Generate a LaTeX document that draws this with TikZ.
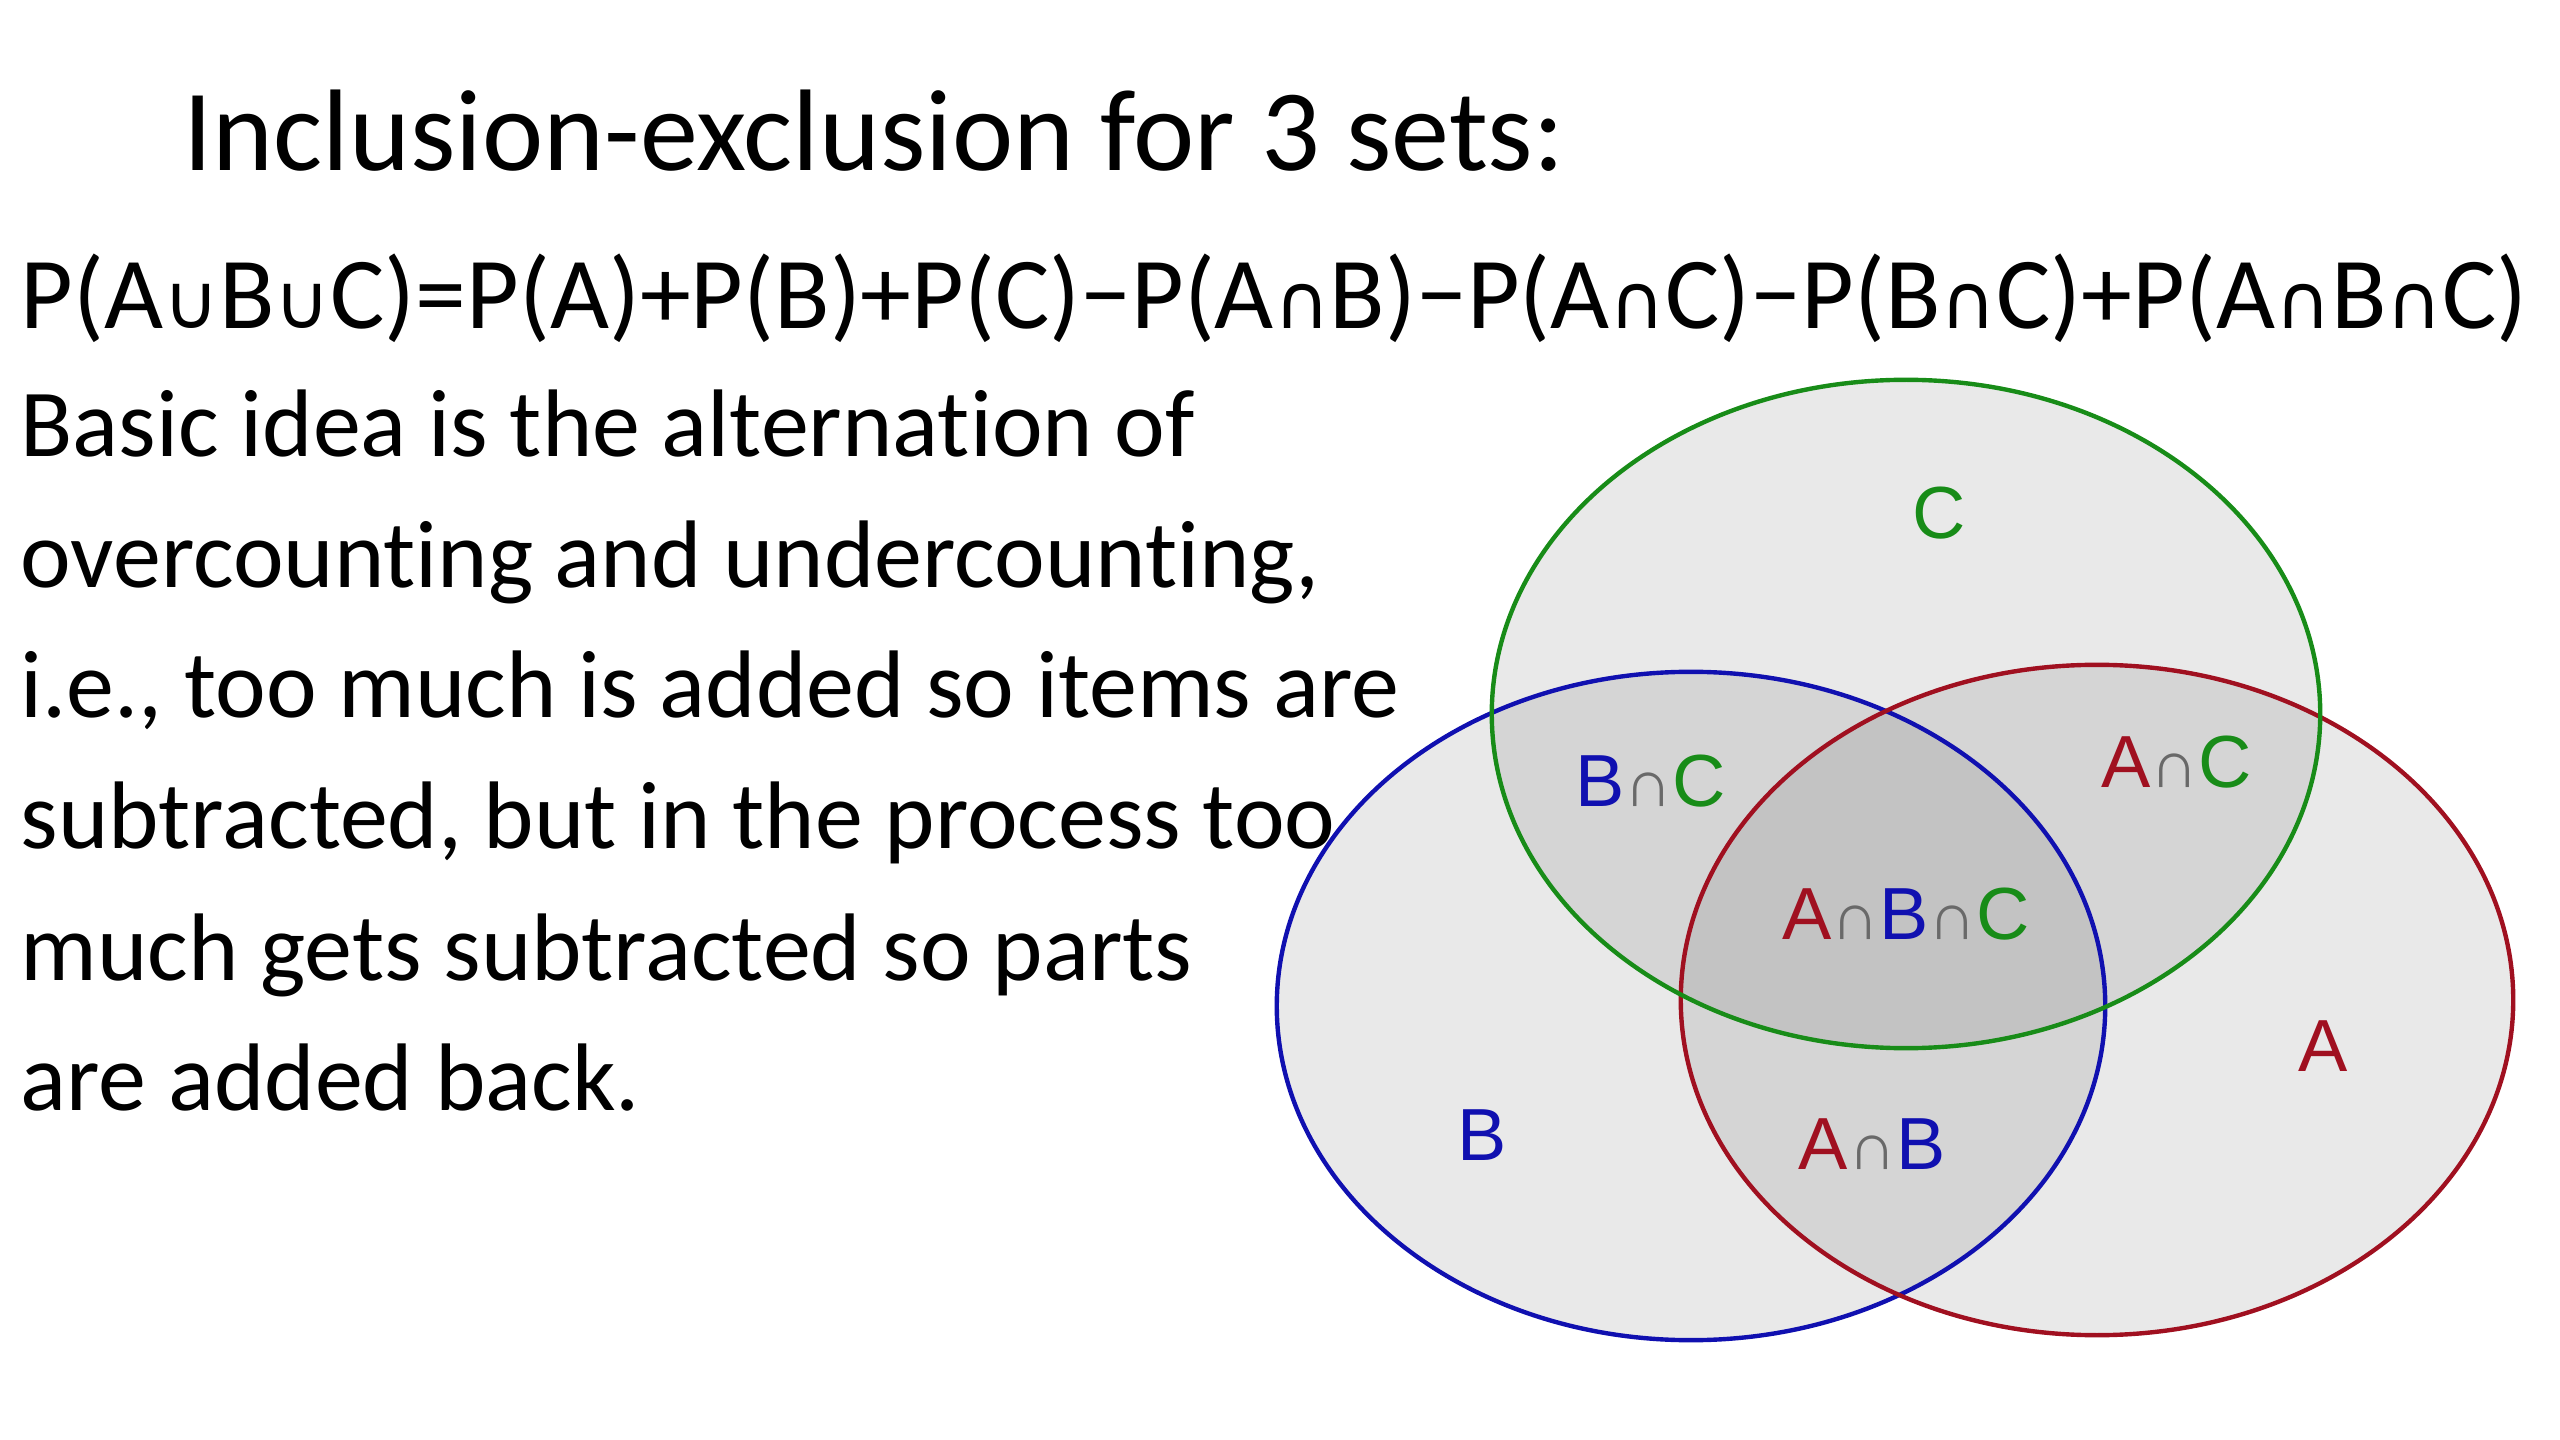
\documentclass[tikz,border=0pt]{standalone}
\usepackage{fontspec}
\setmainfont[Ligatures=NoCommon]{Carlito}
\newfontfamily\labelfont{Liberation Sans}
\newfontfamily\symfont{DejaVu Sans}
\usetikzlibrary{positioning}

\definecolor{setred}{RGB}{160,16,32}
\definecolor{setblue}{RGB}{16,16,176}
\definecolor{setgreen}{RGB}{24,140,24}
\definecolor{capgray}{RGB}{105,105,105}

\newcommand{\unionsym}{{\symfont\fontsize{21.7}{21.7}\selectfont ∪}}
\newcommand{\capsym}{{\symfont\fontsize{21.7}{21.7}\selectfont ∩}}
\newcommand{\lblcap}{{\color{capgray}\fontsize{19}{19}\selectfont ∩}}

\begin{document}
\begin{tikzpicture}[x=0.01cm, y=-0.01cm,
  venn/.style={line width=1.25pt},
  setfill/.style={fill=black, fill opacity=0.085},
  lbl/.style={inner sep=0pt, font=\labelfont\fontsize{21}{21}\selectfont},
  body/.style={anchor=base west, inner sep=0pt, font=\fontsize{27.3}{27.3}\selectfont}]

  \useasboundingbox (0,0) rectangle (2560,1440);

  % title and formula
  \node[anchor=base west, inner sep=0pt, font=\fontsize{33}{33}\selectfont] (title) at (183,171) {Inclusion-exclusion for 3 sets:};
  \node[anchor=base west, inner sep=0pt, font=\fontsize{29}{29}\selectfont] (formula) at (20,329)
    {P(A\unionsym B\unionsym C)=P(A)+P(B)+P(C)−P(A\capsym B)−P(A\capsym C)−P(B\capsym C)+P(A\capsym B\capsym C)};

  % explanation
  \node[body] (line1) at (20,457) {Basic idea is the alternation of};
  \node[body] (line2) at (20,588) {overcounting and undercounting,};
  \node[body] (line3) at (20,718) {i.e., too much is added so items are};
  \node[body] (line4) at (20,849) {subtracted, but in the process too};
  \node[body] (line5) at (20,980) {much gets subtracted so parts};
  \node[body] (line6) at (20,1110) {are added back.};

  % the three sets
  \coordinate (A) at (2097,1000);
  \coordinate (B) at (1691,1006);
  \coordinate (C) at (1906,714);

  \fill[setfill] (C) ellipse [x radius=4.14cm, y radius=3.34cm];
  \fill[setfill] (B) ellipse [x radius=4.14cm, y radius=3.34cm];
  \fill[setfill] (A) ellipse [x radius=4.16cm, y radius=3.35cm];

  \draw[venn, setblue] (B) ellipse [x radius=4.14cm, y radius=3.34cm];
  \draw[venn, setred] (A) ellipse [x radius=4.16cm, y radius=3.35cm];
  \draw[venn, setgreen] (C) ellipse [x radius=4.14cm, y radius=3.34cm];

  % region labels
  \node[lbl, setgreen] (lblC) at (1939,513) {C};
  \node[lbl, setblue] (lblB) at (1482,1135) {B};
  \node[lbl, setred] (lblA) at (2323,1046) {A};
  \node[lbl] (lblBC) at (1651,781) {\color{setblue}B\lblcap\color{setgreen}C};
  \node[lbl] (lblAC) at (2177,762) {\color{setred}A\lblcap\color{setgreen}C};
  \node[lbl] (lblAB) at (1872,1144) {\color{setred}A\lblcap\color{setblue}B};
  \node[lbl] (lblABC) at (1906,914) {\color{setred}A\lblcap\color{setblue}B\lblcap\color{setgreen}C};

\end{tikzpicture}
\end{document}
